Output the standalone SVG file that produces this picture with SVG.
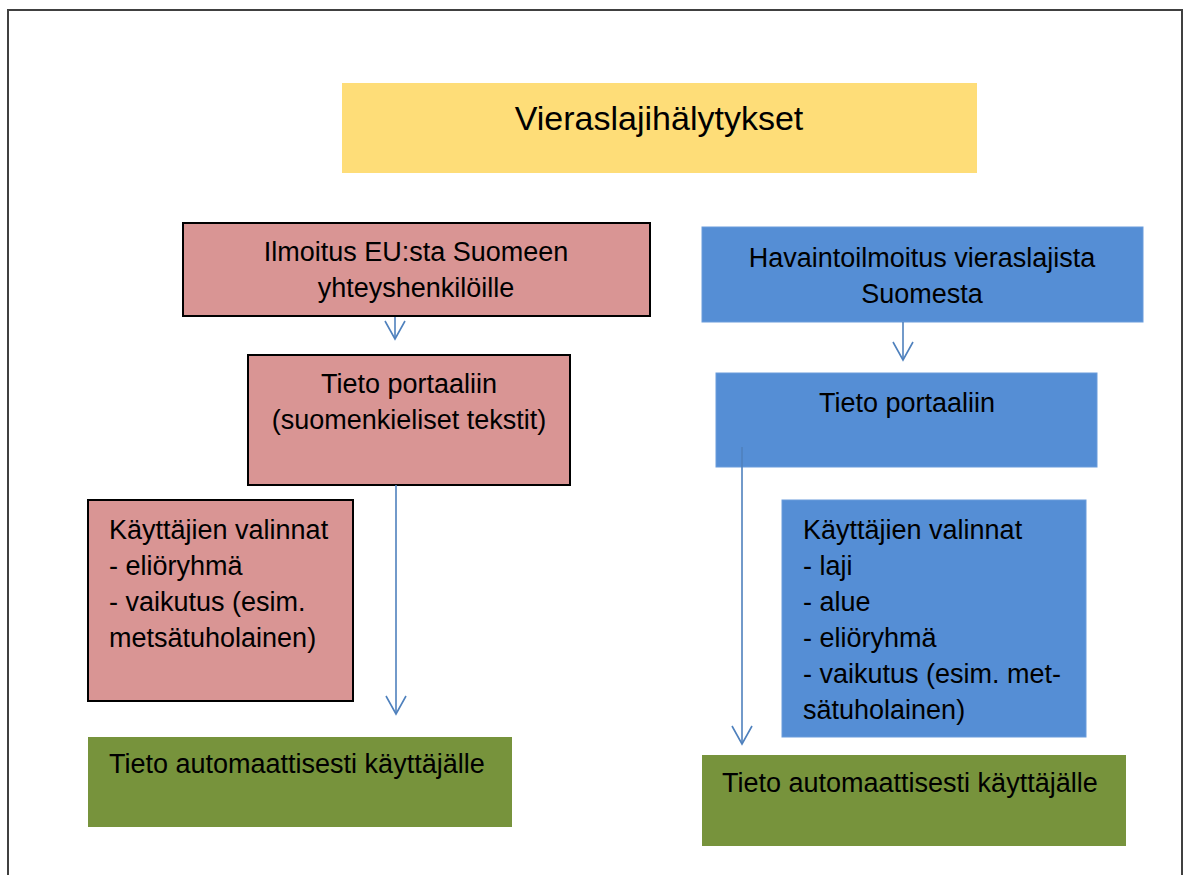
<svg xmlns="http://www.w3.org/2000/svg" width="1184" height="875" viewBox="0 0 1184 875">
<style>
text{font-family:"Liberation Sans",Arial,sans-serif;fill:#000;font-size:27px}
.c{text-anchor:middle}
.pink{fill:#D99594;stroke:#000;stroke-width:2}
.blue{fill:#558ED5;stroke:#6A9CDB;stroke-width:1}
.green{fill:#77933C}
.conn line{stroke:#4F81BD;stroke-width:1.6;fill:none}
</style>
<defs>
<marker id="v" viewBox="-20 -11 22 22" refX="0" refY="0" markerWidth="22" markerHeight="22" markerUnits="userSpaceOnUse" orient="auto">
<path d="M-18,-10 L0,0 L-18,10" fill="none" stroke="#4F81BD" stroke-width="1.6"/>
</marker>
</defs>
<rect x="0" y="0" width="1184" height="875" fill="#fff"/>
<rect x="8" y="10" width="1174" height="880" fill="none" stroke="#404040" stroke-width="2"/>

<g id="title">
<rect x="342" y="83" width="635" height="90" fill="#FEDD78"/>
<text class="c" x="659" y="130" style="font-size:34px">Vieraslajihälytykset</text>
</g>

<g id="eu">
<rect class="pink" x="183" y="223" width="467" height="93"/>
<text class="c" x="416" y="261">Ilmoitus EU:sta Suomeen</text>
<text class="c" x="416" y="297">yhteyshenkilöille</text>
</g>

<g id="portal-left">
<rect class="pink" x="248" y="355" width="322" height="130"/>
<text class="c" x="409" y="393">Tieto portaaliin</text>
<text class="c" x="409" y="429">(suomenkieliset tekstit)</text>
</g>

<g id="choices-left">
<rect class="pink" x="88" y="500" width="265" height="201"/>
<text x="109" y="539">Käyttäjien valinnat</text>
<text x="109" y="575">- eliöryhmä</text>
<text x="109" y="611">- vaikutus (esim.</text>
<text x="109" y="647">metsätuholainen)</text>
</g>

<g id="auto-left">
<rect class="green" x="88" y="737" width="424" height="90"/>
<text x="109" y="773">Tieto automaattisesti käyttäjälle</text>
</g>

<g id="observation">
<rect class="blue" x="702" y="227" width="441" height="95"/>
<text class="c" x="922" y="267">Havaintoilmoitus vieraslajista</text>
<text class="c" x="922" y="303">Suomesta</text>
</g>

<g id="portal-right">
<rect class="blue" x="716" y="373" width="381" height="94"/>
<text class="c" x="907" y="412">Tieto portaaliin</text>
</g>

<g id="choices-right">
<rect class="blue" x="782" y="500" width="304" height="237"/>
<text x="803" y="539">Käyttäjien valinnat</text>
<text x="803" y="575">- laji</text>
<text x="803" y="611">- alue</text>
<text x="803" y="647">- eliöryhmä</text>
<text x="803" y="683">- vaikutus (esim. met-</text>
<text x="803" y="719">sätuholainen)</text>
</g>

<g id="auto-right">
<rect class="green" x="702" y="755" width="424" height="91"/>
<text x="722" y="792">Tieto automaattisesti käyttäjälle</text>
</g>

<g id="connectors" class="conn">
<line x1="395" y1="317" x2="395" y2="339" marker-end="url(#v)"/>
<line x1="396" y1="485" x2="396" y2="714" marker-end="url(#v)"/>
<line x1="903" y1="322" x2="903" y2="360" marker-end="url(#v)"/>
<line x1="742" y1="447" x2="742" y2="744" marker-end="url(#v)"/>
</g>
</svg>
